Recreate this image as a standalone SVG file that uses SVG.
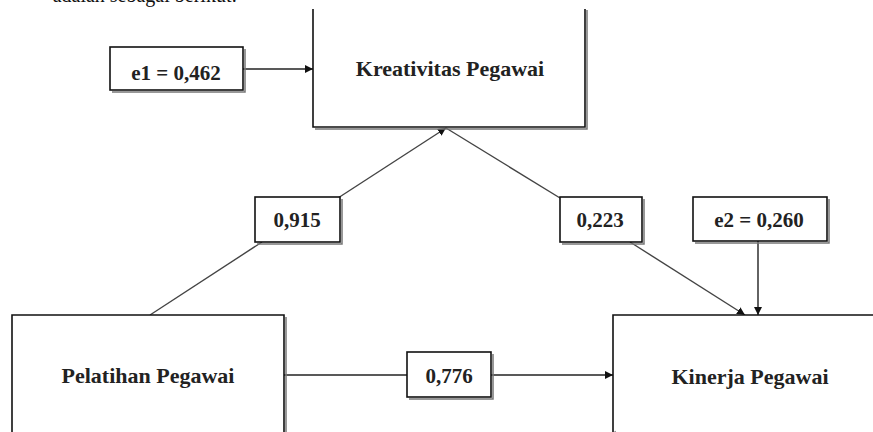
<svg xmlns="http://www.w3.org/2000/svg" width="873" height="432" viewBox="0 0 873 432">
<style>
.box{fill:#fff;stroke:#111;stroke-width:1.6}
.shadow{fill:none;stroke:#777;stroke-width:1.5}
.lbl{font-family:"Liberation Serif","Times New Roman",serif;font-weight:bold;fill:#222;text-anchor:middle}
.node{font-size:22px}
.coef{font-size:21px}
.conn{fill:none;stroke:#222;stroke-width:1.4}
.diag{fill:none;stroke:#444;stroke-width:1.4}
.cap{font-family:"Liberation Serif","Times New Roman",serif;font-size:20px;fill:#111}
</style>
<defs>
<marker id="arr" viewBox="0 0 10 10" refX="10" refY="5" markerWidth="8" markerHeight="8" markerUnits="userSpaceOnUse" orient="auto">
<path d="M0,0 L10,5 L0,10 z" fill="#111"/>
</marker>
</defs>
<text class="cap" x="237" y="2" text-anchor="end">adalah sebagai berikut:</text>
<g id="connectors">
<line class="conn" x1="243" y1="69" x2="313" y2="69" marker-end="url(#arr)"/>
<line class="diag" x1="150" y1="315" x2="262" y2="242"/>
<line class="diag" x1="338" y1="198" x2="446" y2="128" marker-end="url(#arr)"/>
<line class="diag" x1="446" y1="128" x2="560" y2="198"/>
<line class="diag" x1="630" y1="242" x2="745" y2="315" marker-end="url(#arr)"/>
<line class="conn" x1="758" y1="241" x2="758" y2="315" marker-end="url(#arr)"/>
<line class="conn" x1="284" y1="375" x2="407" y2="375"/>
<line class="conn" x1="491" y1="375" x2="613" y2="375" marker-end="url(#arr)"/>
</g>
<g id="kreativitas">
<path class="shadow" d="M587,10 V129 H315"/>
<path class="box" d="M313,9 V127 H585 V9"/>
<text class="lbl node" x="450" y="76">Kreativitas Pegawai</text>
</g>
<g id="pelatihan">
<path class="shadow" d="M286,317 V432"/>
<path class="box" d="M12,432 V315 H284 V432"/>
<text class="lbl node" x="148" y="383">Pelatihan Pegawai</text>
</g>
<g id="kinerja">
<path class="shadow" d="M615,317 V432"/>
<path class="box" d="M613,432 V315 H873"/>
<text class="lbl node" x="750" y="384">Kinerja Pegawai</text>
</g>
<g id="e1">
<path class="shadow" d="M245,49 V92 H112"/>
<rect class="box" x="110" y="47" width="133" height="43"/>
<text class="lbl coef" x="176" y="80">e1 = 0,462</text>
</g>
<g id="e2">
<path class="shadow" d="M829,199 V243 H695"/>
<rect class="box" x="693" y="197" width="134" height="44"/>
<text class="lbl coef" x="759" y="227">e2 = 0,260</text>
</g>
<g id="c915">
<path class="shadow" d="M342,199 V244 H257"/>
<rect class="box" x="255" y="197" width="85" height="45"/>
<text class="lbl coef" x="297" y="227">0,915</text>
</g>
<g id="c223">
<path class="shadow" d="M644,199 V244 H562"/>
<rect class="box" x="560" y="197" width="82" height="45"/>
<text class="lbl coef" x="600" y="227">0,223</text>
</g>
<g id="c776">
<path class="shadow" d="M493,354 V399 H409"/>
<rect class="box" x="407" y="352" width="84" height="45"/>
<text class="lbl coef" x="449" y="383">0,776</text>
</g>
</svg>
